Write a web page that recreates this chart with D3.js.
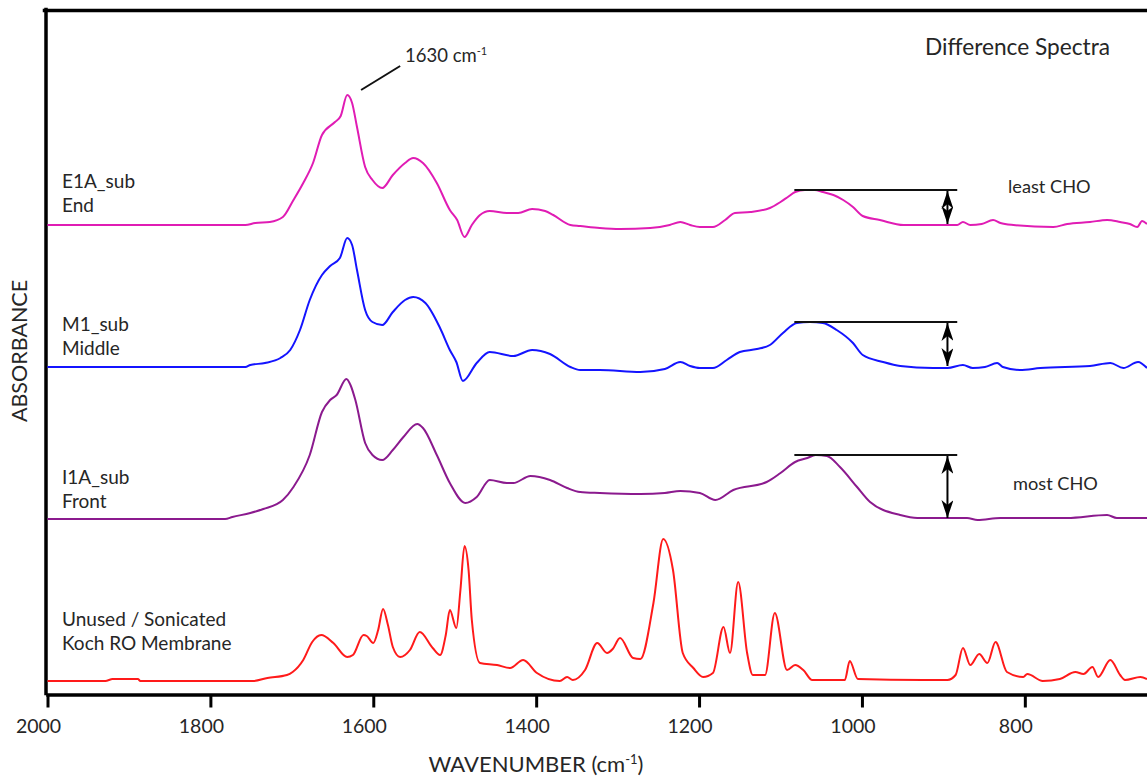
<!DOCTYPE html>
<html>
<head>
<meta charset="utf-8">
<script src="https://cdn.jsdelivr.net/npm/d3@7"></script>
<style>
  body { margin: 0; background: #fff; }
  text { font-family: Lato, "Open Sans", sans-serif; fill: #262626; }
</style>
</head>
<body>
<div id="chart"></div>
<script>
// x ticks (cm-1)
const wavenumberTicks = [2000, 1800, 1600, 1400, 1200, 1000, 800];

// stacking offsets of each spectrum (milli-absorbance units)
const traceOffsets = [936, 652, 348, 24];
const traceNames = [["E1A_sub", "End"], ["M1_sub", "Middle"], ["I1A_sub", "Front"], ["Unused / Sonicated", "Koch RO Membrane"]];
const choNotes = ["least CHO", "", "most CHO"];

// difference spectrum, end of module
const e1aSub = [
  [2000, 0], [1757, 0], [1745, 4], [1727, 6], [1711, 16], [1698, 50], [1686, 84], [1674, 124],
  [1663, 180], [1647, 206], [1640, 218], [1632, 260], [1626, 244], [1620, 196], [1610, 116],
  [1601, 90], [1589, 74], [1576, 100], [1561, 124], [1551, 134], [1539, 124], [1522, 84],
  [1506, 30], [1497, 10], [1488, -24], [1479, 0], [1469, 20], [1457, 28], [1436, 24], [1422, 24],
  [1405, 32], [1389, 28], [1379, 20], [1358, 0], [1346, -2], [1322, -6], [1297, -8], [1260, -6],
  [1236, 0], [1223, 6], [1211, 0], [1199, -4], [1183, -4], [1168, 10], [1156, 24], [1137, 26],
  [1113, 34], [1100, 46], [1091, 56], [1082, 66], [1070, 70], [1058, 70], [1048, 66], [1035, 60],
  [1023, 50], [1011, 36], [999, 18], [978, 10], [949, 0], [883, 0], [876, 6], [867, 0], [853, 2],
  [839, 10], [830, 4], [814, 0], [765, -4], [748, 2], [720, 6], [699, 10], [683, 6], [671, 2],
  [662, -4], [656, 8], [650, 2]
];

// difference spectrum, middle of module
const m1Sub = [
  [2000, 0], [1757, 0], [1751, 4], [1733, 8], [1714, 18], [1702, 34], [1690, 74], [1678, 134],
  [1663, 184], [1653, 202], [1641, 218], [1632, 258], [1626, 244], [1620, 194], [1610, 114],
  [1601, 90], [1589, 84], [1576, 110], [1561, 134], [1551, 140], [1536, 128], [1518, 78],
  [1506, 34], [1498, 10], [1490, -28], [1473, 8], [1457, 30], [1428, 22], [1405, 34], [1383, 26],
  [1358, 0], [1346, -6], [1322, -6], [1272, -10], [1242, -4], [1223, 10], [1211, 2], [1199, -2],
  [1183, -2], [1166, 14], [1150, 30], [1129, 36], [1113, 44], [1097, 68], [1080, 88], [1064, 90],
  [1048, 88], [1031, 74], [1011, 48], [999, 24], [974, 10], [953, 2], [913, -2], [895, -2],
  [876, 4], [864, -2], [849, 0], [834, 8], [827, 0], [806, -6], [781, -2], [720, 2], [695, 8],
  [679, -2], [661, 10], [650, -2]
];

// difference spectrum, front of module
const i1aSub = [
  [2000, 0], [1782, 0], [1773, 4], [1751, 12], [1735, 20], [1711, 38], [1698, 64], [1678, 128],
  [1663, 214], [1653, 238], [1645, 248], [1633, 280], [1628, 268], [1622, 238], [1610, 152],
  [1601, 128], [1589, 118], [1576, 138], [1563, 164], [1546, 190], [1539, 182], [1522, 128],
  [1506, 72], [1487, 32], [1473, 44], [1457, 78], [1436, 72], [1428, 72], [1407, 86], [1383, 78],
  [1362, 62], [1346, 54], [1322, 52], [1272, 50], [1242, 52], [1223, 56], [1199, 52], [1180, 38],
  [1158, 58], [1117, 74], [1100, 92], [1082, 114], [1067, 122], [1057, 128], [1043, 126],
  [1027, 104], [1006, 64], [990, 34], [953, 8], [932, 2], [871, 2], [858, -2], [830, 2],
  [748, 2], [699, 8], [687, 2], [650, 2]
];

// unused / sonicated Koch RO membrane
const kochRo = [
  [2000, 0], [1929, 0], [1920, 4], [1889, 4], [1886, 0], [1748, 0], [1730, 6], [1706, 12],
  [1699, 18], [1686, 42], [1675, 78], [1664, 92], [1649, 76], [1632, 48], [1625, 52], [1612, 92],
  [1608, 90], [1600, 76], [1594, 102], [1588, 144], [1582, 112], [1576, 68], [1567, 48],
  [1555, 62], [1543, 98], [1527, 66], [1518, 52], [1511, 92], [1506, 142], [1498, 106],
  [1493, 182], [1488, 270], [1483, 222], [1479, 122], [1469, 36], [1448, 32], [1432, 26],
  [1416, 42], [1399, 16], [1371, 0], [1362, 8], [1355, 2], [1340, 22], [1325, 76], [1313, 56],
  [1306, 64], [1297, 86], [1281, 46], [1272, 44], [1256, 156], [1244, 284], [1232, 222],
  [1220, 56], [1207, 26], [1195, 8], [1183, 16], [1170, 108], [1162, 56], [1152, 198],
  [1141, 56], [1134, 12], [1119, 12], [1107, 136], [1092, 22], [1082, 32], [1072, 22],
  [1061, 2], [1021, 2], [1015, 40], [1005, 4], [925, 2], [895, 2], [885, 12], [876, 66],
  [867, 32], [856, 54], [846, 36], [836, 78], [822, 18], [802, 8], [797, 14], [778, 0],
  [757, 4], [738, 18], [728, 14], [717, 28], [710, 8], [695, 42], [683, 12], [677, 2],
  [658, 8], [650, 4]
];

const traces = [e1aSub, m1Sub, i1aSub, kochRo];
const traceColors = ["#e01cb4", "#1414ff", "#8b1a8e", "#ff1a1a"];

// band of the carbohydrate peak and where the height arrow sits
const choBand = [1083, 883];
const choArrowAt = 895;

function drawSpectra() {
  let width = 1147, height = 781;

  let svg = d3.select("#chart").append("svg")
    .attr("width", width)
    .attr("height", height)
    .style("background", "#fff");

  let x = d3.scaleLinear().domain([2000, 650]).range([47.5, 1147]);
  let y = d3.scaleLinear().domain([0, 1368]).range([693, 9]);

  // frame: left, top and bottom lines
  svg.append("g").attr("class", "frame")
    .attr("transform", "translate(45.5,0)")
    .call(d3.axisLeft(y).tickValues([]).tickSizeOuter(0));
  svg.append("g").attr("class", "frame")
    .attr("transform", "translate(0,10)")
    .call(d3.axisTop(x.copy().range([44, 1147])).tickValues([]).tickSizeOuter(0));

  let xAxis = svg.append("g")
    .attr("transform", "translate(0,694.5)")
    .call(d3.axisBottom(x).tickValues(wavenumberTicks).tickSize(13).tickSizeOuter(0)
      .tickPadding(12).tickFormat(d3.format("d")));
  xAxis.selectAll(".tick text").attr("dx", -9.5).style("font-size", "19.5px")
    .style("font-family", "Lato, sans-serif").attr("fill", "#262626");
  xAxis.selectAll(".tick line").attr("stroke-width", 3);

  svg.selectAll(".domain").attr("stroke-width", 3.5).attr("stroke-linecap", "square");

  // spectra
  let line = d3.line().curve(d3.curveMonotoneX);
  traces.forEach(function(trace, i) {
    line.x(function(d) { return x(d[0]); })
        .y(function(d) { return y(d[1] + traceOffsets[i]); });
    svg.append("path")
      .attr("fill", "none")
      .attr("stroke", traceColors[i])
      .attr("stroke-width", 2)
      .attr("stroke-linejoin", "round")
      .attr("d", line(trace));
  });

  // arrow head
  svg.append("defs").append("marker")
    .attr("id", "head")
    .attr("viewBox", "0 -6 18 12")
    .attr("refX", 18).attr("refY", 0)
    .attr("markerWidth", 18).attr("markerHeight", 12)
    .attr("markerUnits", "userSpaceOnUse")
    .attr("orient", "auto-start-reverse")
    .append("path")
    .attr("d", "M0,-6L18,0L0,6L5,0Z")
    .attr("fill", "#000");

  // carbohydrate band height marks
  for (let i = 0; i < 3; ++i) {
    let band = traces[i].filter(d => d[0] <= 1100 && d[0] >= 1000);
    let top = y(d3.max(band, d => d[1]) + traceOffsets[i]);
    let base = y(traceOffsets[i]);
    svg.append("line")
      .attr("x1", x(choBand[0])).attr("x2", x(choBand[1]))
      .attr("y1", top).attr("y2", top)
      .attr("stroke", "#111").attr("stroke-width", 2);
    svg.append("line")
      .attr("x1", x(choArrowAt)).attr("x2", x(choArrowAt))
      .attr("y1", top + 1).attr("y2", base - 1)
      .attr("stroke", "#000").attr("stroke-width", 2)
      .attr("marker-start", "url(#head)")
      .attr("marker-end", "url(#head)");
  }

  // trace names
  let nameRows = [[-37, -13], [-36.5, -12], [-35.5, -11], [-55, -31]];
  traceNames.forEach(function(name, i) {
    let base = y(traceOffsets[i]);
    name.forEach(function(row, k) {
      svg.append("text")
        .attr("x", 62).attr("y", base + nameRows[i][k])
        .style("font-size", "19px")
        .text(row);
    });
  });

  svg.append("text").attr("x", 1008).attr("y", 193).style("font-size", "18.2px").text(choNotes[0]);
  svg.append("text").attr("x", 1013).attr("y", 490).style("font-size", "18.2px").text(choNotes[2]);

  // amide I peak label
  let peakY = y(d3.max(e1aSub, d => d[1]) + traceOffsets[0]);
  svg.append("line")
    .attr("x1", x(1615)).attr("y1", peakY - 5)
    .attr("x2", x(1567)).attr("y2", peakY - 29)
    .attr("stroke", "#111").attr("stroke-width", 2);
  let peakText = svg.append("text").attr("x", 405).attr("y", 61.5).style("font-size", "18.5px");
  peakText.append("tspan").text("1630 cm");
  peakText.append("tspan").attr("dy", -7).style("font-size", "11px").text("-1");

  svg.append("text")
    .attr("x", 925).attr("y", 55)
    .style("font-size", "22.7px")
    .text("Difference Spectra");

  // axis titles
  let xTitle = svg.append("text")
    .attr("x", 536).attr("y", 771.5)
    .attr("text-anchor", "middle")
    .style("font-size", "22px");
  xTitle.append("tspan").text("WAVENUMBER (cm");
  xTitle.append("tspan").attr("dy", -8).style("font-size", "13px").text("-1");
  xTitle.append("tspan").attr("dy", 8).text(")");

  svg.append("text")
    .attr("transform", "translate(27,351) rotate(-90)")
    .attr("text-anchor", "middle")
    .style("font-size", "21.5px")
    .text("ABSORBANCE");
}

drawSpectra();
</script>
</body>
</html>
